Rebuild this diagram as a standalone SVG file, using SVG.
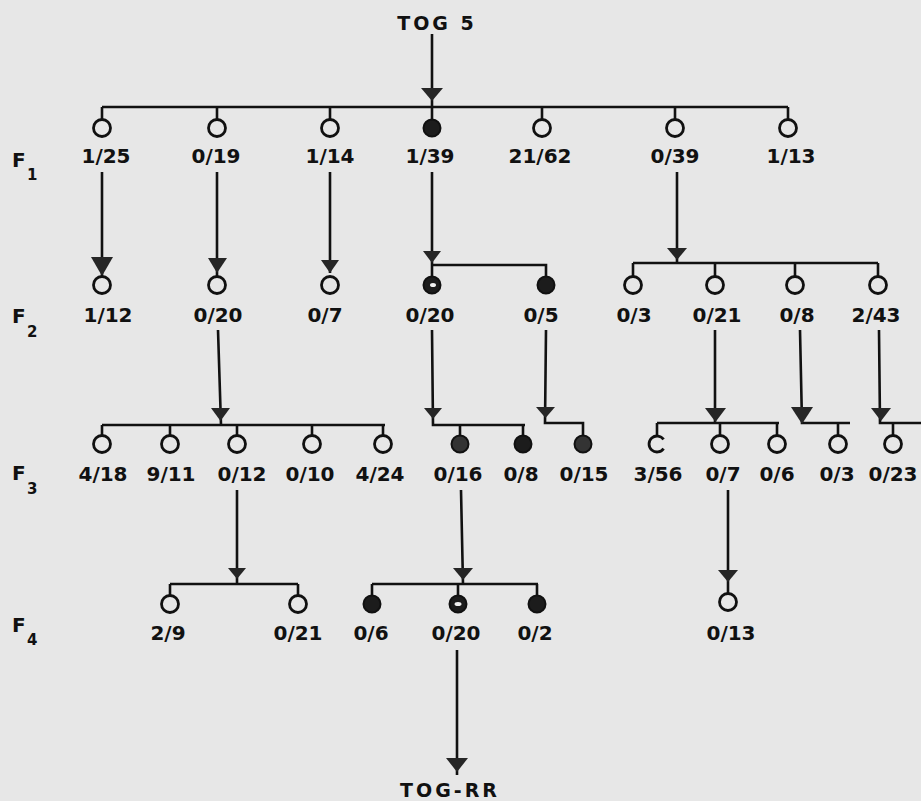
<svg xmlns="http://www.w3.org/2000/svg" width="921" height="801" viewBox="0 0 921 801">
<style>
.ln{stroke:#111;stroke-width:2.6;fill:none;stroke-linecap:butt}
.ah{fill:#262626}
.o{fill:none;stroke:#111;stroke-width:2.8}
.f{fill:#1c1c1c;stroke:#111;stroke-width:2}
.g{fill:#333;stroke:#111;stroke-width:2}
.w{fill:#f0f0f0}
.t{font-family:"DejaVu Sans",sans-serif;font-weight:bold;font-size:20px;fill:#111;text-anchor:middle}
.big{font-family:"DejaVu Sans",sans-serif;font-weight:bold;font-size:19px;fill:#111;text-anchor:middle;letter-spacing:3px}
.gen{font-family:"DejaVu Sans",sans-serif;font-weight:bold;font-size:20px;fill:#111}
.sub{font-family:"DejaVu Sans",sans-serif;font-weight:bold;font-size:15px;fill:#111}
</style>
<rect width="921" height="801" fill="#e7e7e7"/>

<g id="connectors">
  <path class="ln" d="M432 34V107M102 107H788M102 107V119.5M217 107V119.5M330 107V119.5M432 107V119.5M542 107V119.5M675 107V119.5M788 107V119.5"/>
  <polygon class="ah" points="421,88 443,88 432,101"/>
  <path class="ln" d="M102 172V276M217 172V276M330 172V273M432 172V276M432 265H546V276M677 172V263M633 263H878M633 263V276M715 263V276M795 263V276M878 263V276"/>
  <polygon class="ah" points="91,257 113,257 102,276"/>
  <polygon class="ah" points="208,258 227,258 217,273"/>
  <polygon class="ah" points="321,260 339,260 330,273"/>
  <polygon class="ah" points="423,251 441,251 432,263"/>
  <polygon class="ah" points="667,248 687,248 677,260"/>
  <path class="ln" d="M218 330L221 425M102 425H385M102 425V435M170 425V435M237 425V435M312 425V435M383 425V435"/>
  <polygon class="ah" points="211,408 230,408 220.5,421"/>
  <path class="ln" d="M432 330L433 425H525M460 425V435M523 425V435"/>
  <polygon class="ah" points="424,408 442,408 433,419"/>
  <path class="ln" d="M546 330L545 423H583V435"/>
  <polygon class="ah" points="536,407 555,407 545.5,418"/>
  <path class="ln" d="M715 330V423M657 423H779M657 423V435M720 423V435M777 423V435"/>
  <polygon class="ah" points="705,408 726,408 715.5,422"/>
  <path class="ln" d="M800 330L802 423H850M838 423V435"/>
  <polygon class="ah" points="791,407 813,407 802,424"/>
  <path class="ln" d="M879 330L880 423H921M893 423V435"/>
  <polygon class="ah" points="871,408 891,408 881,421"/>
  <path class="ln" d="M237 490V584M170 584H298M170 584V595M298 584V595"/>
  <polygon class="ah" points="228,568 246,568 237,579"/>
  <path class="ln" d="M461 490L463 584M372 584H538M372 584V595M458 584V595M537 584V595"/>
  <polygon class="ah" points="453,568 473,568 463,580"/>
  <path class="ln" d="M728 490V594"/>
  <polygon class="ah" points="718,570 738,570 728,582"/>
  <path class="ln" d="M457 650V775"/>
  <polygon class="ah" points="446,758 468,758 457,772"/>
</g>

<g id="generations">
  <text class="gen" x="12" y="167">F</text><text class="sub" x="27" y="180">1</text>
  <text class="gen" x="12" y="323">F</text><text class="sub" x="27" y="337">2</text>
  <text class="gen" x="12" y="480">F</text><text class="sub" x="27" y="494">3</text>
  <text class="gen" x="12" y="632">F</text><text class="sub" x="27" y="645">4</text>
</g>

<g id="tog5"><text class="big" x="437" y="30">TOG 5</text></g>
<g id="togrr"><text class="big" x="450" y="797">TOG-RR</text></g>

<g id="f1-1"><circle class="o" cx="102" cy="128" r="8.5"/><text class="t" x="106" y="163">1/25</text></g>
<g id="f1-2"><circle class="o" cx="217" cy="128" r="8.5"/><text class="t" x="216" y="163">0/19</text></g>
<g id="f1-3"><circle class="o" cx="330" cy="128" r="8.5"/><text class="t" x="330" y="163">1/14</text></g>
<g id="f1-4"><circle class="f" cx="432" cy="128" r="8.5"/><text class="t" x="430" y="163">1/39</text></g>
<g id="f1-5"><circle class="o" cx="542" cy="128" r="8.5"/><text class="t" x="540" y="163">21/62</text></g>
<g id="f1-6"><circle class="o" cx="675" cy="128" r="8.5"/><text class="t" x="675" y="163">0/39</text></g>
<g id="f1-7"><circle class="o" cx="788" cy="128" r="8.5"/><text class="t" x="791" y="163">1/13</text></g>

<g id="f2-1"><circle class="o" cx="102" cy="285" r="8.5"/><text class="t" x="108" y="322">1/12</text></g>
<g id="f2-2"><circle class="o" cx="217" cy="285" r="8.5"/><text class="t" x="218" y="322">0/20</text></g>
<g id="f2-3"><circle class="o" cx="330" cy="285" r="8.5"/><text class="t" x="325" y="322">0/7</text></g>
<g id="f2-4"><circle class="f" cx="432" cy="285" r="8.5"/><ellipse class="w" cx="433" cy="285" rx="3" ry="2"/><text class="t" x="430" y="322">0/20</text></g>
<g id="f2-5"><circle class="f" cx="546" cy="285" r="8.5"/><text class="t" x="541" y="322">0/5</text></g>
<g id="f2-6"><circle class="o" cx="633" cy="285" r="8.5"/><text class="t" x="634" y="322">0/3</text></g>
<g id="f2-7"><circle class="o" cx="715" cy="285" r="8.5"/><text class="t" x="717" y="322">0/21</text></g>
<g id="f2-8"><circle class="o" cx="795" cy="285" r="8.5"/><text class="t" x="797" y="322">0/8</text></g>
<g id="f2-9"><circle class="o" cx="878" cy="285" r="8.5"/><text class="t" x="876" y="322">2/43</text></g>

<g id="f3-1"><circle class="o" cx="102" cy="444" r="8.5"/><text class="t" x="103" y="481">4/18</text></g>
<g id="f3-2"><circle class="o" cx="170" cy="444" r="8.5"/><text class="t" x="171" y="481">9/11</text></g>
<g id="f3-3"><circle class="o" cx="237" cy="444" r="8.5"/><text class="t" x="242" y="481">0/12</text></g>
<g id="f3-4"><circle class="o" cx="312" cy="444" r="8.5"/><text class="t" x="310" y="481">0/10</text></g>
<g id="f3-5"><circle class="o" cx="383" cy="444" r="8.5"/><text class="t" x="380" y="481">4/24</text></g>
<g id="f3-6"><circle class="g" cx="460" cy="444" r="8.5"/><text class="t" x="458" y="481">0/16</text></g>
<g id="f3-7"><circle class="f" cx="523" cy="444" r="8.5"/><text class="t" x="521" y="481">0/8</text></g>
<g id="f3-8"><circle class="g" cx="583" cy="444" r="8.5"/><text class="t" x="584" y="481">0/15</text></g>
<g id="f3-9"><path class="o" d="M663.6 439.4A8 8 0 1 0 663.6 448.6"/><text class="t" x="658" y="481">3/56</text></g>
<g id="f3-10"><circle class="o" cx="720" cy="444" r="8.5"/><text class="t" x="723" y="481">0/7</text></g>
<g id="f3-11"><circle class="o" cx="777" cy="444" r="8.5"/><text class="t" x="777" y="481">0/6</text></g>
<g id="f3-12"><circle class="o" cx="838" cy="444" r="8.5"/><text class="t" x="837" y="481">0/3</text></g>
<g id="f3-13"><circle class="o" cx="893" cy="444" r="8.5"/><text class="t" x="893" y="481">0/23</text></g>

<g id="f4-1"><circle class="o" cx="170" cy="604" r="8.5"/><text class="t" x="168" y="640">2/9</text></g>
<g id="f4-2"><circle class="o" cx="298" cy="604" r="8.5"/><text class="t" x="298" y="640">0/21</text></g>
<g id="f4-3"><circle class="f" cx="372" cy="604" r="8.5"/><text class="t" x="371" y="640">0/6</text></g>
<g id="f4-4"><circle class="f" cx="458" cy="604" r="8.5"/><ellipse class="w" cx="458" cy="604" rx="3.5" ry="2"/><text class="t" x="456" y="640">0/20</text></g>
<g id="f4-5"><circle class="f" cx="537" cy="604" r="8.5"/><text class="t" x="535" y="640">0/2</text></g>
<g id="f4-6"><circle class="o" cx="728" cy="602" r="8.5"/><text class="t" x="731" y="640">0/13</text></g>
</svg>
